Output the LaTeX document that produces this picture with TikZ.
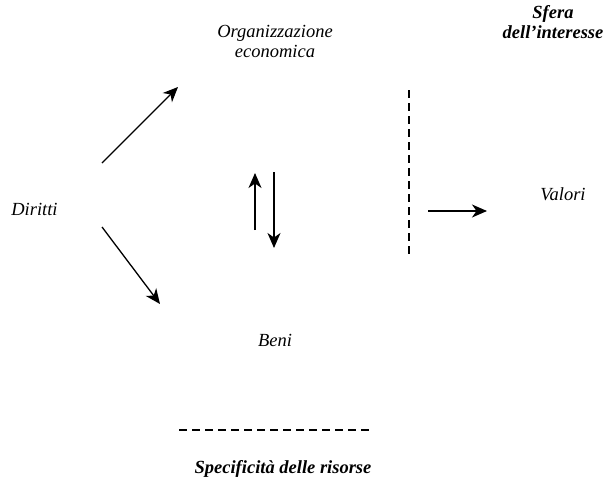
\documentclass[tikz,border=0pt]{standalone}
\usepackage{fontspec}
\setmainfont{Liberation Serif}
\usetikzlibrary{arrows.meta}

\begin{document}
\begin{tikzpicture}[x=1pt, y=-1pt,
    label/.style={font=\fontsize{18.5}{19.5}\selectfont\itshape, align=center, anchor=base, inner sep=0pt},
    boldlabel/.style={label, font=\fontsize{18.5}{19.5}\selectfont\bfseries\itshape},
    arrow/.style={-{Stealth[length=15pt, width=13pt, inset=4.5pt]}, line width=1.3pt},
    divider/.style={line width=2pt, dash pattern=on 7.5pt off 5.5pt},
]
\useasboundingbox (0,0) rectangle (606,479);

\node[label] (organizzazione) at (275,57) {Organizzazione\\economica};
\node[boldlabel] (sfera) at (553,38) {Sfera\\dell'interesse};
\node[label] (diritti) at (34.5,215) {Diritti};
\node[label] (valori) at (563,200) {Valori};
\node[label] (beni) at (275,346) {Beni};
\node[boldlabel] (specificita) at (283,473) {Specificità delle risorse};

% arrow ends
\coordinate (diritti_up) at (102,163);
\coordinate (organizzazione_in) at (178,87);
\coordinate (diritti_down) at (102,227);
\coordinate (beni_in) at (160,304);
\coordinate (up_start) at (255,230);
\coordinate (up_end) at (255,173);
\coordinate (down_start) at (274,172);
\coordinate (down_end) at (274,248);
\coordinate (valori_start) at (428,211);
\coordinate (valori_in) at (487,211);

\draw[arrow] (diritti_up) -- (organizzazione_in);
\draw[arrow] (diritti_down) -- (beni_in);
\draw[arrow] (up_start) -- (up_end);
\draw[arrow] (down_start) -- (down_end);
\draw[arrow] (valori_start) -- (valori_in);

% dashed separators
\coordinate (sfera_top) at (409,90);
\coordinate (sfera_bottom) at (409,254);
\coordinate (risorse_left) at (179,430);
\coordinate (risorse_right) at (371,430);
\draw[divider] (sfera_top) -- (sfera_bottom);
\draw[divider] (risorse_left) -- (risorse_right);
\end{tikzpicture}
\end{document}
